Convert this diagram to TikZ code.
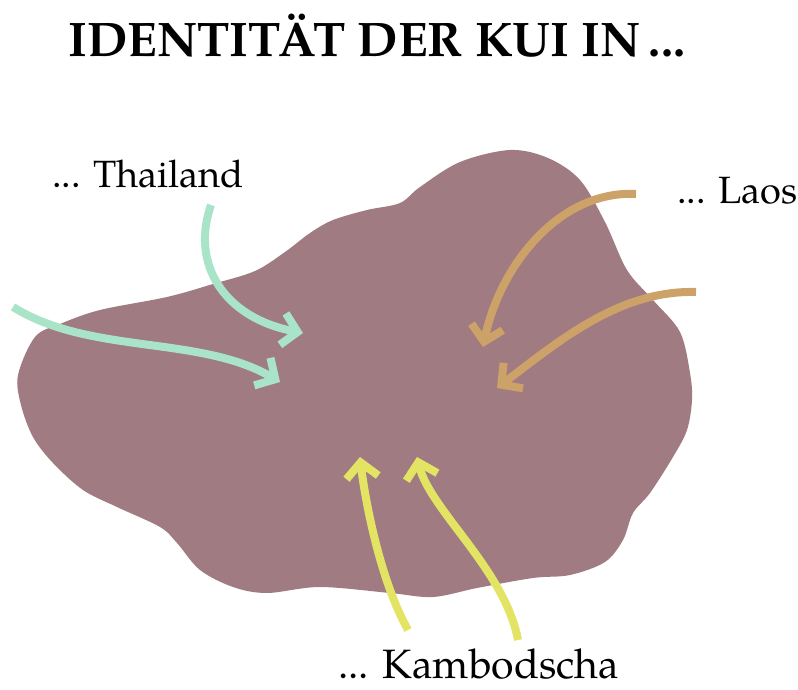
\documentclass[tikz,border=0pt]{standalone}
\usepackage{fontspec}
\setmainfont{TeX Gyre Pagella}
\usetikzlibrary{arrows.meta}
\definecolor{blobc}{RGB}{160,123,130}
\definecolor{thaic}{RGB}{170,228,200}
\definecolor{laosc}{RGB}{205,162,105}
\definecolor{kambc}{RGB}{228,228,100}
\begin{document}
\begin{tikzpicture}[x=1pt,y=-1pt,
  arr/.style={line width=8pt, -{Straight Barb[sharp,length=15pt,width=32pt]}},
  lbl/.style={inner sep=0pt, anchor=base west, font=\fontsize{38}{38}\selectfont},
  ttl/.style={inner sep=0pt, anchor=base west, font=\fontsize{48.5}{48.5}\selectfont\bfseries}]
\useasboundingbox (0,0) rectangle (798,690);
\fill[blobc] plot[smooth cycle, tension=0.55] coordinates {
 (35,337) (60,324) (100,310) (167,297) (213,284) (255,271) (285,252) (310,233)
 (333,220) (367,210) (400,203) (420,187) (460,162) (510,150) (548,158) (580,180)
 (605,222) (627,270) (653,300) (680,332) (690,373) (692,400) (687,430) (673,457)
 (650,493) (633,513) (623,540) (605,562) (570,575) (533,578) (477,588) (433,597)
 (390,593) (320,587) (267,593) (233,587) (200,570) (177,543) (160,527) (117,507)
 (83,490) (53,463) (33,437) (21,405) (18,375)};
\node[ttl] (title) at (68,57) {IDENTITÄT DER KUI IN\,...};
\node[lbl] (thai) at (52,187) {... Thailand};
\node[lbl] (laos) at (677,203) {... Laos};
\node[lbl, font=\fontsize{41}{41}\selectfont] (kamb) at (338,678) {... Kambodscha};
\coordinate (t1s) at (211,205); \coordinate (t1e) at (303,333);
\coordinate (t2s) at (13,307);  \coordinate (t2e) at (280,382);
\coordinate (l1s) at (636,194); \coordinate (l1e) at (483,347);
\coordinate (l2s) at (696,292); \coordinate (l2e) at (497,388);
\coordinate (k1s) at (408,630); \coordinate (k1e) at (360,457);
\coordinate (k2s) at (518,640); \coordinate (k2e) at (417,457);
\draw[arr, thaic] (t1s) .. controls (190,265) and (225,318) .. (t1e);
\draw[arr, thaic] (t2s) .. controls (90,355) and (200,335) .. (t2e);
\draw[arr, laosc] (l1s) .. controls (560,190) and (500,265) .. (l1e);
\draw[arr, laosc] (l2s) .. controls (620,290) and (560,340) .. (l2e);
\draw[arr, kambc] (k1s) .. controls (380,580) and (365,500) .. (k1e);
\draw[arr, kambc] (k2s) .. controls (505,570) and (430,510) .. (k2e);
\end{tikzpicture}
\end{document}
